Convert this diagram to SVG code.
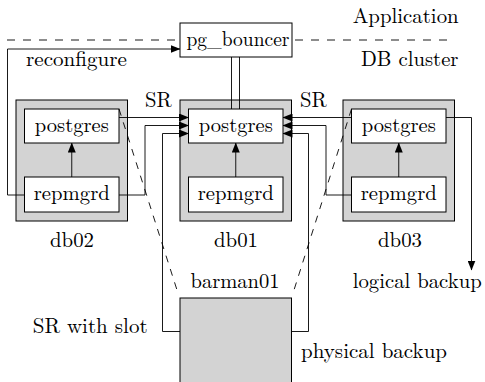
<svg xmlns="http://www.w3.org/2000/svg" width="485" height="382" viewBox="0 0 485 382">
<defs>
<marker id="ah" markerWidth="10" markerHeight="8" refX="9.5" refY="4" orient="auto" markerUnits="userSpaceOnUse"><path d="M0,0 L10,4 L0,8 z" fill="#000"/></marker>
<style>
text{font-family:'Latin Modern Roman','CMU Serif','Liberation Serif','Tinos','Times New Roman','Nimbus Roman','TeX Gyre Termes','FreeSerif','Noto Serif','DejaVu Serif',Times,serif;font-size:21px;fill:#000}
.mid{text-anchor:middle}
.box{fill:#fff;stroke:#000;stroke-width:1}
.host{fill:#d3d3d3;stroke:#000;stroke-width:1}
.ln{fill:none;stroke:#000;stroke-width:0.9}
.arr{fill:none;stroke:#000;stroke-width:0.9;marker-end:url(#ah)}
.dash{fill:none;stroke:#000;stroke-width:0.9;stroke-dasharray:8 8}
.dd{fill:none;stroke:#000;stroke-width:0.9;stroke-dasharray:7 7}
</style>
</defs>
<rect width="485" height="382" fill="#fff"/>
<g id="layers">
<path class="dash" d="M7,40 H455"/>
<text x="352.7" y="23" textLength="106" lengthAdjust="spacingAndGlyphs">Application</text>
<text x="361" y="66" textLength="97.5" lengthAdjust="spacingAndGlyphs">DB cluster</text>
</g>
<g id="db02">
<rect class="host" x="16" y="100" width="111.5" height="121"/>
<rect class="box" x="24.5" y="109" width="94.5" height="34"/>
<text class="mid" x="71.75" y="132" textLength="74" lengthAdjust="spacingAndGlyphs">postgres</text>
<rect class="box" x="24.5" y="177" width="94.5" height="35"/>
<text class="mid" x="71.75" y="200" textLength="76" lengthAdjust="spacingAndGlyphs">repmgrd</text>
<text class="mid" x="72" y="247" textLength="44" lengthAdjust="spacingAndGlyphs">db02</text>
</g>
<g id="db01">
<rect class="host" x="180" y="100" width="111.5" height="121"/>
<rect class="box" x="188.5" y="109" width="94.5" height="34"/>
<text class="mid" x="235.75" y="132" textLength="74" lengthAdjust="spacingAndGlyphs">postgres</text>
<rect class="box" x="188.5" y="177" width="94.5" height="35"/>
<text class="mid" x="235.75" y="200" textLength="76" lengthAdjust="spacingAndGlyphs">repmgrd</text>
<text class="mid" x="236" y="247" textLength="44" lengthAdjust="spacingAndGlyphs">db01</text>
</g>
<g id="db03">
<rect class="host" x="343" y="100" width="111.5" height="121"/>
<rect class="box" x="351.5" y="109" width="94.5" height="34"/>
<text class="mid" x="398.75" y="132" textLength="74" lengthAdjust="spacingAndGlyphs">postgres</text>
<rect class="box" x="351.5" y="177" width="94.5" height="35"/>
<text class="mid" x="398.75" y="200" textLength="76" lengthAdjust="spacingAndGlyphs">repmgrd</text>
<text class="mid" x="400" y="247" textLength="44" lengthAdjust="spacingAndGlyphs">db03</text>
</g>
<g id="barman01">
<rect class="host" x="180" y="298" width="111.5" height="100"/>
<text class="mid" x="235" y="288" textLength="89" lengthAdjust="spacingAndGlyphs">barman01</text>
</g>
<g id="connectors">
<path class="ln" d="M231.5,57 V109 M239.5,57 V109"/>
<path class="arr" d="M24.5,195 H7.5 V49 H180"/>
<path class="arr" d="M71.75,177 V143"/>
<path class="arr" d="M235.75,177 V143"/>
<path class="arr" d="M398.75,177 V143"/>
<path class="arr" d="M119,117.5 H188.5"/>
<path class="arr" d="M119,195 H145 V125.5 H188.5"/>
<path class="arr" d="M180,331.5 H162.5 V133.5 H188.5"/>
<path class="arr" d="M351.5,117.5 H283"/>
<path class="arr" d="M351.5,195 H326 V125.5 H283"/>
<path class="arr" d="M291.5,331.5 H308.5 V133.5 H283"/>
<path class="arr" d="M446,117.5 H471.5 V270"/>
<path class="dd" d="M119,109 L177,290"/>
<path class="dd" d="M351.5,109 L294,290"/>
<text x="26" y="66" textLength="101" lengthAdjust="spacingAndGlyphs">reconfigure</text>
<text class="mid" x="158.3" y="107" textLength="26.7" lengthAdjust="spacingAndGlyphs">SR</text>
<text class="mid" x="313.3" y="107" textLength="26.7" lengthAdjust="spacingAndGlyphs">SR</text>
<text x="32.7" y="333" textLength="115" lengthAdjust="spacingAndGlyphs">SR with slot</text>
<text x="301" y="358" textLength="146" lengthAdjust="spacingAndGlyphs">physical backup</text>
<text x="352.7" y="288" textLength="129" lengthAdjust="spacingAndGlyphs">logical backup</text>
</g>
<g id="pg_bouncer">
<rect class="box" x="180" y="23" width="112" height="34"/>
<text class="mid" x="238" y="46" textLength="103" lengthAdjust="spacingAndGlyphs">pg_bouncer</text>
</g>
</svg>
